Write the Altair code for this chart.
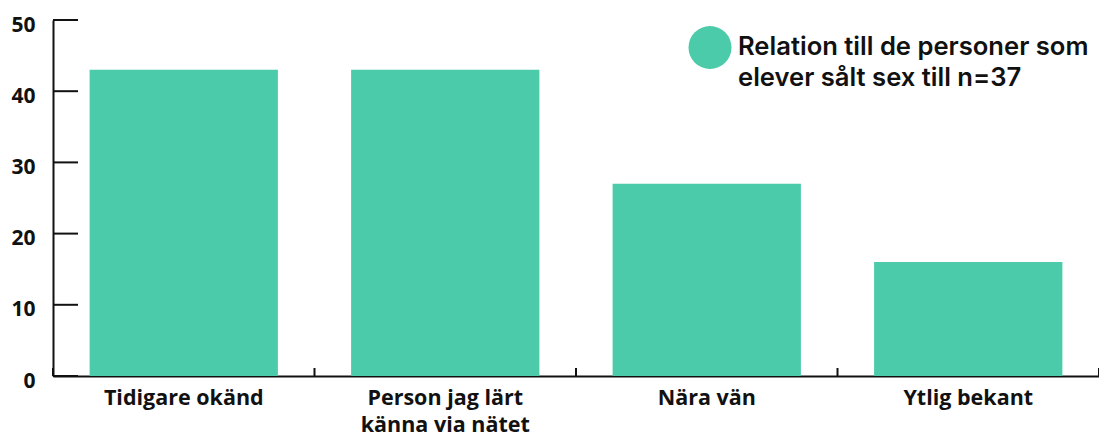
import altair as alt
import pandas as pd

categories = ["Tidigare okänd", "Person jag lärt känna via nätet", "Nära vän", "Ytlig bekant"]
values = [43, 43, 27, 16]
series_name = "Relation till de personer som|elever sålt sex till n=37"
y_ticks = [0, 10, 20, 30, 40, 50]
x_edges = [0, 1, 2, 3, 4]

BAR_COLOR = "#4BCBA9"
W, H = 1046, 356

df = pd.DataFrame({"kategori": categories, "andel": values, "serie": [series_name] * len(categories)})
df_leg = pd.DataFrame({"serie": [series_name]})
df_yt = pd.DataFrame({"v": y_ticks})
df_xt = pd.DataFrame({"e": x_edges})

label_expr = ("datum.label == 'Person jag lärt känna via nätet' ? "
              "['Person jag lärt', 'känna via nätet'] : datum.label")

color_enc = alt.Color("serie:N", scale=alt.Scale(range=[BAR_COLOR]), legend=None)

bars = alt.Chart(df).mark_bar().encode(
    x=alt.X("kategori:N", sort=categories, title=None,
            scale=alt.Scale(paddingInner=0.28, paddingOuter=0.14),
            axis=alt.Axis(labelAngle=0, labelFont="Open Sans", labelFontSize=21.5,
                          labelFontWeight="bold", labelColor="#111111", labelPadding=11,
                          labelLineHeight=27, labelExpr=label_expr, ticks=False,
                          domainColor="#111111", domainWidth=2, labelLimit=0)),
    y=alt.Y("andel:Q", title=None,
            scale=alt.Scale(domain=[0, 50]),
            axis=alt.Axis(values=y_ticks, ticks=False, grid=False, labelFont="Open Sans",
                          labelFontSize=21, labelFontWeight="bold", labelColor="#111111",
                          labelPadding=18, labelOffset=5, domainColor="#111111",
                          domainWidth=2)),
    color=color_enc,
)

ytick_rules = alt.Chart(df_yt).mark_rule(color="#111111", strokeWidth=2).encode(
    y=alt.Y("v:Q", scale=alt.Scale(domain=[0, 50])),
    x=alt.value(0), x2=alt.value(25),
)

xtick_rules = alt.Chart(df_xt).mark_rule(color="#111111", strokeWidth=2).encode(
    x=alt.X("e:Q", scale=alt.Scale(domain=[0, 4], nice=False, zero=False), axis=None),
    y=alt.value(H - 8), y2=alt.value(H),
)

legend_dot = alt.Chart(df_leg).mark_point(filled=True, shape="circle", size=1849, opacity=1).encode(
    x=alt.value(657), y=alt.value(27.5), color=color_enc,
)

legend_text = alt.Chart(df_leg).mark_text(
    align="left", baseline="alphabetic", font="Inter", fontSize=25.6, fontWeight=600,
    color="#111111", lineBreak="|", lineHeight=31,
).encode(x=alt.value(685), y=alt.value(35), text="serie:N")

chart = alt.layer(bars, ytick_rules, xtick_rules, legend_dot, legend_text).resolve_scale(
    x="independent").properties(
    width=W, height=H,
    autosize=alt.AutoSizeParams(type="none"),
    padding={"left": 45, "top": 12, "right": 0, "bottom": 60},
).configure_view(stroke=None)

chart.save("out.html", embed_options={"renderer": "svg", "actions": False})
